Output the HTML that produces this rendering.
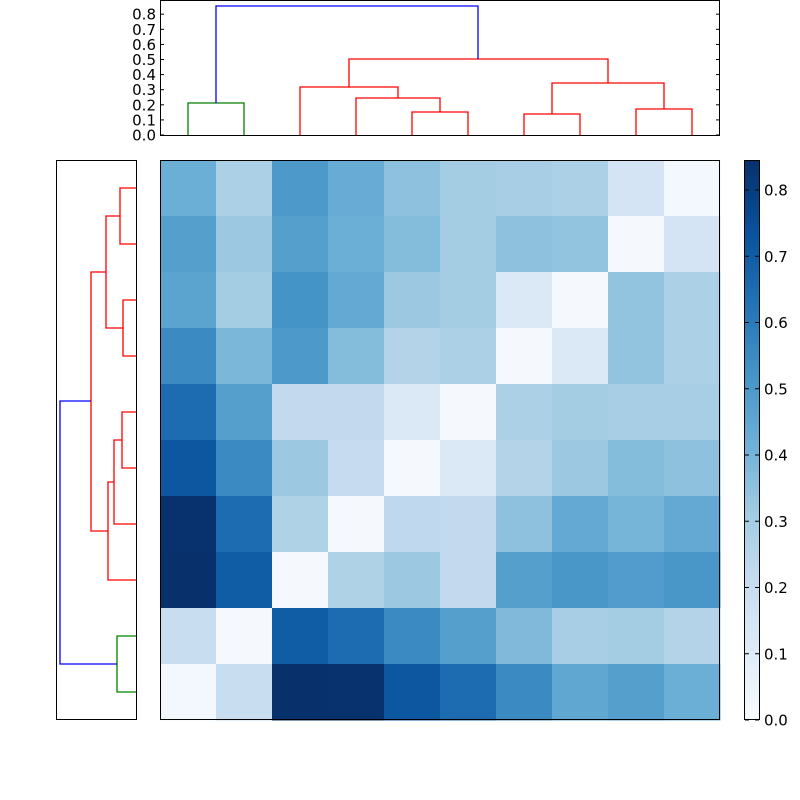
<!DOCTYPE html>
<html><head><style>body{margin:0;background:#fff}svg{display:block}</style></head>
<body>
<svg id="s" width="800" height="800" xmlns="http://www.w3.org/2000/svg" font-family="DejaVu Sans, Liberation Sans, sans-serif" font-size="15">
<rect width="800" height="800" fill="#fff"/>
<g id="heat"></g>
<g fill="none" stroke-width="1.3">
<!-- top dendrogram -->
<path stroke="#008000" d="M188,135V103H244V135"/>
<path stroke="#f00" d="M412,135V112H468V135"/>
<path stroke="#f00" d="M356,135V98H440V112"/>
<path stroke="#f00" d="M300,135V87H398V98"/>
<path stroke="#f00" d="M524,135V114H580V135"/>
<path stroke="#f00" d="M636,135V109H692V135"/>
<path stroke="#f00" d="M552,114V83H664V109"/>
<path stroke="#f00" d="M349,87V59H608V83"/>
<path stroke="#00f" d="M216,103V6H478V59"/>
<!-- left dendrogram -->
<path stroke="#f00" d="M136,188H120V244H136"/>
<path stroke="#f00" d="M136,300H123V356H136"/>
<path stroke="#f00" d="M120,216H106V328H123"/>
<path stroke="#f00" d="M136,412H122V468H136"/>
<path stroke="#f00" d="M122,440H114V524H136"/>
<path stroke="#f00" d="M114,482H108V580H136"/>
<path stroke="#f00" d="M106,272H91V531H108"/>
<path stroke="#008000" d="M136,636H117V692H136"/>
<path stroke="#00f" d="M91,401H60V664H117"/>
</g>
<g fill="none" stroke="#000" stroke-width="1">
<rect x="160.5" y="0.5" width="559" height="135"/>
<rect x="56.5" y="160.5" width="80" height="559"/>
<rect x="160.5" y="160.5" width="559" height="559"/>
<rect x="744.5" y="160.5" width="15" height="559"/>
</g>
<defs><linearGradient id="cb" x1="0" y1="1" x2="0" y2="0">
<stop offset="0" stop-color="#f7fbff"/><stop offset="0.125" stop-color="#deebf7"/><stop offset="0.25" stop-color="#c6dbef"/><stop offset="0.375" stop-color="#9ecae1"/><stop offset="0.5" stop-color="#6baed6"/><stop offset="0.625" stop-color="#4292c6"/><stop offset="0.75" stop-color="#2171b5"/><stop offset="0.875" stop-color="#08519c"/><stop offset="1" stop-color="#08306b"/>
</linearGradient></defs>
<rect x="745" y="161" width="14" height="558" fill="url(#cb)"/>
<g id="ticks" stroke="#000" stroke-width="1"></g>
<g id="labels" fill="#000"></g>
</svg>
<script>
var M=[
[0.42,0.28,0.50,0.43,0.35,0.30,0.29,0.28,0.15,0.02],
[0.48,0.32,0.48,0.42,0.37,0.30,0.35,0.34,0.01,0.15],
[0.46,0.30,0.52,0.44,0.32,0.30,0.12,0.01,0.34,0.28],
[0.55,0.39,0.50,0.37,0.26,0.28,0.01,0.12,0.34,0.28],
[0.65,0.48,0.22,0.22,0.12,0.01,0.28,0.30,0.29,0.29],
[0.72,0.55,0.32,0.21,0.01,0.12,0.26,0.32,0.37,0.35],
[0.84,0.65,0.27,0.01,0.23,0.22,0.35,0.44,0.40,0.44],
[0.85,0.70,0.01,0.27,0.32,0.22,0.48,0.51,0.49,0.51],
[0.20,0.01,0.70,0.65,0.55,0.48,0.38,0.29,0.30,0.26],
[0.02,0.20,0.85,0.84,0.72,0.65,0.55,0.45,0.48,0.42]];
var C=["#f7fbff","#deebf7","#c6dbef","#9ecae1","#6baed6","#4292c6","#2171b5","#08519c","#08306b"];
function h2r(h){return [1,3,5].map(function(i){return parseInt(h.substr(i,2),16)})}
function col(v){var t=Math.max(0,Math.min(1,v/0.845))*8;var i=Math.min(7,Math.floor(t)),f=t-i;var a=h2r(C[i]),b=h2r(C[i+1]);return "rgb("+a.map(function(x,k){return Math.round(x+(b[k]-x)*f)}).join(",")+")"}
var NS="http://www.w3.org/2000/svg",g=document.getElementById("heat");
function el(p,n,at,txt){var e=document.createElementNS(NS,n);for(var k in at)e.setAttribute(k,at[k]);if(txt!=null)e.textContent=txt;p.appendChild(e);return e}
for(var r=0;r<10;r++)for(var c=0;c<10;c++)el(g,"rect",{x:160+c*56,y:160+r*56,width:56.5,height:56.5,fill:col(M[r][c])});
var tk=document.getElementById("ticks"),lb=document.getElementById("labels");
for(var i=0;i<=8;i++){var y=135-i*15.1;el(tk,"line",{x1:160,x2:164,y1:y,y2:y});el(tk,"line",{x1:716,x2:720,y1:y,y2:y});
el(lb,"text",{x:156,y:y+5.5,"text-anchor":"end"},(i/10).toFixed(1));
var y2=720-i*66.25;el(tk,"line",{x1:745,x2:749,y1:y2,y2:y2});el(tk,"line",{x1:755,x2:759,y1:y2,y2:y2});
el(lb,"text",{x:764,y:y2+5.5},(i/10).toFixed(1));}
</script>
</body></html>
